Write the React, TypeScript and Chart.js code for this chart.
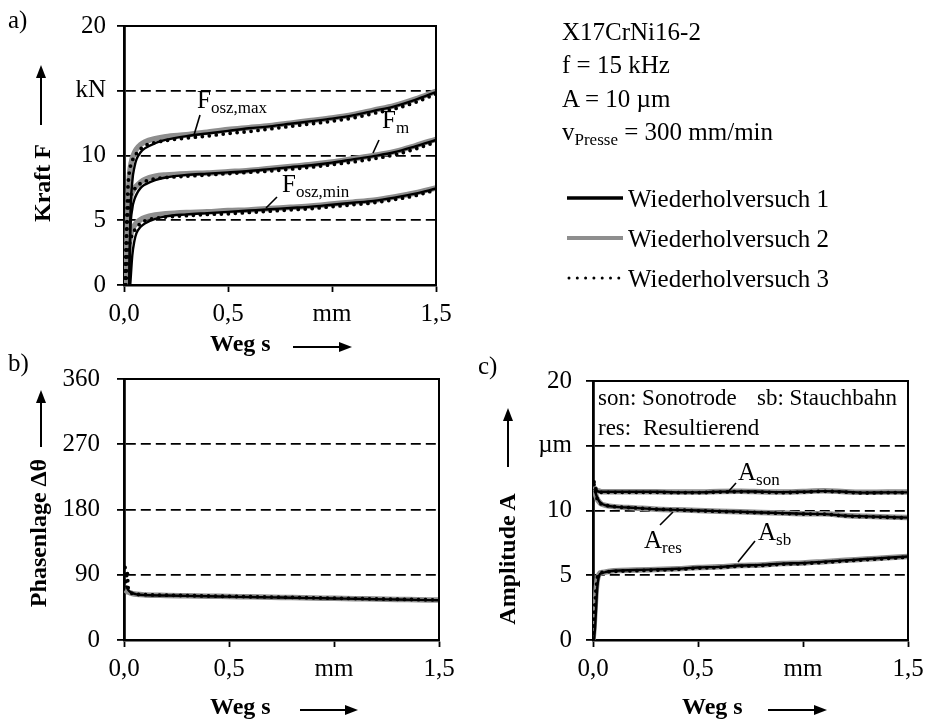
import React, { useEffect, useRef } from 'react';
import { Chart, registerables } from 'chart.js';

Chart.register(...registerables);

const FONT = "'Liberation Serif', 'Times New Roman', serif";
const GRAY = '#8e8e8e';

// ---------- shared x-axis ----------
const xTickValues = [0, 0.5, 1.0, 1.5];
const xTickLabels = ['0,0', '0,5', 'mm', '1,5'];

// ---------- chart a: Kraft F ----------
const yTickValuesA = [0, 5, 10, 15, 20];
const yTickLabelsA = ['0', '5', '10', 'kN', '20'];
const sA = [0, 0.005, 0.01, 0.015, 0.02, 0.025, 0.03, 0.04, 0.05, 0.06, 0.08, 0.1, 0.15, 0.2, 0.3, 0.4, 0.5, 0.6, 0.7, 0.8, 0.9, 1.0, 1.1, 1.2, 1.3, 1.4, 1.5];
const fMax1 = [null, null, null, null, null, 0, 5.0, 8.0, 9.1, 9.7, 10.25, 10.55, 10.95, 11.2, 11.5, 11.7, 11.9, 12.1, 12.25, 12.45, 12.65, 12.85, 13.1, 13.45, 13.8, 14.3, 14.9];
const fMax2 = [null, null, 0, 3.5, 6.5, 8.2, 9.0, 9.8, 10.2, 10.5, 10.85, 11.05, 11.3, 11.45, 11.6, 11.8, 12.0, 12.15, 12.3, 12.5, 12.7, 12.9, 13.15, 13.5, 13.85, 14.35, 14.95];
const fMax3 = [null, 0, 3.0, 6.0, 7.8, 8.6, 9.1, 9.6, 9.9, 10.15, 10.5, 10.75, 11.0, 11.15, 11.35, 11.5, 11.7, 11.85, 12.05, 12.25, 12.45, 12.65, 12.9, 13.25, 13.6, 14.1, 14.75];
const fM1 = [null, null, null, null, null, 0, 4.0, 5.9, 6.6, 7.0, 7.5, 7.75, 8.1, 8.3, 8.5, 8.6, 8.7, 8.8, 8.95, 9.1, 9.25, 9.45, 9.7, 9.95, 10.25, 10.7, 11.2];
const fM2 = [null, null, 0, 2.8, 5.0, 6.2, 6.7, 7.2, 7.45, 7.65, 7.95, 8.15, 8.4, 8.5, 8.6, 8.65, 8.75, 8.85, 9.0, 9.15, 9.3, 9.5, 9.75, 10.0, 10.3, 10.75, 11.25];
const fM3 = [null, 0, 2.5, 4.6, 5.8, 6.4, 6.8, 7.2, 7.4, 7.6, 7.85, 8.0, 8.2, 8.3, 8.4, 8.5, 8.6, 8.7, 8.8, 8.95, 9.1, 9.3, 9.5, 9.75, 10.05, 10.5, 11.05];
const fMin1 = [null, null, null, null, null, null, 0, 2.3, 3.4, 4.0, 4.5, 4.75, 5.1, 5.3, 5.45, 5.55, 5.65, 5.75, 5.85, 5.95, 6.05, 6.2, 6.35, 6.5, 6.75, 7.05, 7.45];
const fMin2 = [null, null, null, 0, 1.8, 3.0, 3.7, 4.3, 4.6, 4.8, 5.05, 5.2, 5.4, 5.5, 5.6, 5.65, 5.75, 5.8, 5.9, 6.0, 6.1, 6.25, 6.4, 6.55, 6.8, 7.1, 7.5];
const fMin3 = [null, null, 0, 1.5, 2.5, 3.0, 3.4, 3.9, 4.2, 4.45, 4.75, 4.95, 5.15, 5.25, 5.35, 5.45, 5.5, 5.6, 5.7, 5.8, 5.9, 6.05, 6.2, 6.35, 6.6, 6.9, 7.35];

// ---------- chart b: Phasenlage ----------
const yTickValuesB = [0, 90, 180, 270, 360];
const yTickLabelsB = ['0', '90', '180', '270', '360'];
const sB = [0, 0.005, 0.01, 0.015, 0.02, 0.03, 0.04, 0.06, 0.1, 0.2, 0.3, 0.4, 0.5, 0.6, 0.7, 0.8, 0.9, 1.0, 1.1, 1.2, 1.3, 1.4, 1.5];
const phi1 = [null, null, 75, 72, 69, 66, 64.5, 63, 62, 61.3, 60.8, 60.3, 59.8, 59.3, 58.8, 58.3, 57.8, 57.3, 56.8, 56.3, 55.8, 55.3, 54.8];
const phi2 = [null, 69, 68, 67, 66, 65, 64, 63, 62.2, 61.5, 61, 60.5, 60, 59.5, 59, 58.5, 58, 57.5, 57, 56.5, 56, 55.5, 55];
const phi3 = [null, 100, 80, 95, 72, 66, 64, 63, 62.5, 61.8, 61.2, 60.7, 60.2, 59.7, 59.2, 58.7, 58.2, 57.7, 57.2, 56.7, 56.2, 55.7, 55.2];

// ---------- chart c: Amplitude ----------
const yTickValuesC = [0, 5, 10, 15, 20];
const yTickLabelsC = ['0', '5', '10', 'µm', '20'];
const sC = [0, 0.005, 0.01, 0.015, 0.02, 0.03, 0.04, 0.06, 0.1, 0.2, 0.3, 0.4, 0.5, 0.6, 0.7, 0.8, 0.9, 1.0, 1.1, 1.2, 1.3, 1.4, 1.5];
const aSon1 = [null, null, 11.8, 11.6, 11.5, 11.45, 11.45, 11.45, 11.45, 11.45, 11.45, 11.4, 11.4, 11.45, 11.48, 11.45, 11.42, 11.45, 11.5, 11.45, 11.38, 11.4, 11.4];
const aSon2 = [null, 11.6, 11.7, 11.55, 11.5, 11.5, 11.45, 11.45, 11.45, 11.45, 11.45, 11.42, 11.42, 11.47, 11.48, 11.45, 11.42, 11.47, 11.52, 11.45, 11.4, 11.42, 11.42];
const aSon3 = [null, 12.2, 11.9, 11.6, 11.5, 11.45, 11.4, 11.4, 11.4, 11.4, 11.4, 11.38, 11.38, 11.42, 11.45, 11.42, 11.38, 11.42, 11.48, 11.42, 11.35, 11.38, 11.38];
const aRes1 = [null, null, 11.5, 11.2, 11.0, 10.7, 10.55, 10.4, 10.3, 10.2, 10.1, 10.05, 10.0, 9.95, 9.9, 9.85, 9.8, 9.75, 9.72, 9.6, 9.55, 9.5, 9.45];
const aRes2 = [null, 11.6, 11.4, 11.1, 10.9, 10.65, 10.5, 10.4, 10.3, 10.2, 10.1, 10.05, 10.0, 9.95, 9.9, 9.85, 9.8, 9.75, 9.75, 9.62, 9.55, 9.5, 9.45];
const aRes3 = [null, 12.0, 11.6, 11.2, 10.9, 10.6, 10.5, 10.4, 10.3, 10.2, 10.1, 10.05, 9.98, 9.93, 9.88, 9.83, 9.78, 9.73, 9.72, 9.58, 9.52, 9.48, 9.42];
const aSb1 = [null, 0, 1.0, 2.5, 4.0, 5.0, 5.15, 5.25, 5.35, 5.4, 5.45, 5.5, 5.6, 5.65, 5.75, 5.8, 5.9, 5.95, 6.05, 6.15, 6.25, 6.35, 6.45];
const aSb2 = [0, 1.0, 2.5, 3.8, 4.6, 5.1, 5.2, 5.25, 5.35, 5.4, 5.45, 5.5, 5.6, 5.65, 5.75, 5.8, 5.9, 5.95, 6.05, 6.15, 6.25, 6.35, 6.45];
const aSb3 = [0, 1.5, 3.0, 4.0, 4.8, 5.1, 5.2, 5.25, 5.3, 5.35, 5.4, 5.45, 5.55, 5.6, 5.7, 5.75, 5.85, 5.9, 6.0, 6.1, 6.2, 6.3, 6.4];

const runStyles: any[] = [
  { borderColor: '#000', borderWidth: 2.4, order: 1 },
  { borderColor: GRAY, borderWidth: 5.5, order: 2 },
  { borderColor: '#000', borderWidth: 3.8, borderDash: [0, 7], borderCapStyle: 'round', order: 0 },
];

function ds(xs: number[], ys: (number | null)[], run: number) {
  return {
    data: xs.map((x, i) => ({ x, y: ys[i] })),
    pointRadius: 0,
    cubicInterpolationMode: 'monotone',
    fill: false,
    ...runStyles[run],
  };
}

const framePlugin = {
  id: 'frame',
  afterDraw(chart: any) {
    const { ctx, chartArea: a } = chart;
    ctx.save();
    ctx.strokeStyle = '#000';
    ctx.lineWidth = 2;
    ctx.beginPath();
    ctx.moveTo(a.left, a.top);
    ctx.lineTo(a.right, a.top);
    ctx.lineTo(a.right, a.bottom);
    ctx.stroke();
    ctx.restore();
  },
};

type Cfg = {
  left: number; top: number; w: number; h: number;
  padTop: number; padRight: number; yW: number; xH: number; yPad: number;
  yMax: number; yVals: number[]; yLabels: string[];
  datasets: any[];
};

function buildConfig(cfg: Cfg): any {
  const tickFont = { family: FONT, size: 25 };
  return {
    type: 'line',
    data: { datasets: cfg.datasets },
    plugins: [framePlugin],
    options: {
      animation: false,
      responsive: false,
      maintainAspectRatio: false,
      devicePixelRatio: 1,
      events: [],
      layout: { padding: { top: cfg.padTop, right: cfg.padRight, left: 0, bottom: 0 } },
      plugins: { legend: { display: false }, tooltip: { enabled: false } },
      scales: {
        x: {
          type: 'linear', min: 0, max: 1.5,
          afterBuildTicks: (s: any) => { s.ticks = xTickValues.map((v) => ({ value: v })); },
          afterFit: (s: any) => { s.height = cfg.xH; },
          ticks: {
            callback: (_v: any, i: number) => xTickLabels[i],
            font: tickFont, color: '#000', padding: 7, maxRotation: 0, minRotation: 0, autoSkip: false,
          },
          grid: { drawOnChartArea: false, drawTicks: true, tickLength: 7, tickColor: '#000', tickWidth: 1.8, color: '#000' },
          border: { color: '#000', width: 2.6 },
        },
        y: {
          type: 'linear', min: 0, max: cfg.yMax,
          afterBuildTicks: (s: any) => { s.ticks = cfg.yVals.map((v) => ({ value: v })); },
          afterFit: (s: any) => { s.width = cfg.yW; },
          ticks: {
            callback: (_v: any, i: number) => cfg.yLabels[i],
            font: tickFont, color: '#000', padding: cfg.yPad, autoSkip: false,
          },
          grid: {
            drawOnChartArea: true, drawTicks: true, tickLength: 7,
            color: '#000', lineWidth: 1.8, tickColor: '#000', tickWidth: 1.8, tickBorderDash: [],
          },
          border: { color: '#000', width: 2.8, dash: [10, 5] },
        },
      },
    },
  };
}

function ChartCanvas({ cfg }: { cfg: Cfg }) {
  const ref = useRef<HTMLCanvasElement>(null);
  useEffect(() => {
    const chart = new Chart(ref.current as HTMLCanvasElement, buildConfig(cfg));
    return () => chart.destroy();
  }, []);
  return (
    <canvas
      ref={ref}
      width={cfg.w}
      height={cfg.h}
      style={{ position: 'absolute', left: cfg.left, top: cfg.top, width: cfg.w, height: cfg.h }}
    />
  );
}

const cfgA: Cfg = {
  left: 0, top: 0, w: 470, h: 360, padTop: 20, padRight: 34, yW: 124, xH: 75, yPad: 11,
  yMax: 20, yVals: yTickValuesA, yLabels: yTickLabelsA,
  datasets: [
    ds(sA, fMax2, 1), ds(sA, fM2, 1), ds(sA, fMin2, 1),
    ds(sA, fMax1, 0), ds(sA, fM1, 0), ds(sA, fMin1, 0),
    ds(sA, fMax3, 2), ds(sA, fM3, 2), ds(sA, fMin3, 2),
  ],
};

const cfgB: Cfg = {
  left: 0, top: 340, w: 470, h: 382, padTop: 39, padRight: 31, yW: 124, xH: 82, yPad: 17,
  yMax: 360, yVals: yTickValuesB, yLabels: yTickLabelsB,
  datasets: [ds(sB, phi2, 1), ds(sB, phi1, 0), ds(sB, phi3, 2)],
};

const cfgC: Cfg = {
  left: 463, top: 340, w: 472, h: 382, padTop: 41, padRight: 27, yW: 130, xH: 82, yPad: 14,
  yMax: 20, yVals: yTickValuesC, yLabels: yTickLabelsC,
  datasets: [
    ds(sC, aSon2, 1), ds(sC, aRes2, 1), ds(sC, aSb2, 1),
    ds(sC, aSon1, 0), ds(sC, aRes1, 0), ds(sC, aSb1, 0),
    ds(sC, aSon3, 2), ds(sC, aRes3, 2), ds(sC, aSb3, 2),
  ],
};

function UpArrow({ x, y1, y2 }: { x: number; y1: number; y2: number }) {
  return (
    <g>
      <line x1={x} y1={y1} x2={x} y2={y2 + 10} stroke="#000" strokeWidth={2} />
      <polygon points={`${x},${y2} ${x - 5},${y2 + 13} ${x + 5},${y2 + 13}`} fill="#000" />
    </g>
  );
}

function RightArrow({ x1, x2, y }: { x1: number; x2: number; y: number }) {
  return (
    <g>
      <line x1={x1} y1={y} x2={x2 - 10} y2={y} stroke="#000" strokeWidth={2} />
      <polygon points={`${x2},${y} ${x2 - 13},${y - 5} ${x2 - 13},${y + 5}`} fill="#000" />
    </g>
  );
}

function Sub({ x, y, main, sub }: { x: number; y: number; main: string; sub: string }) {
  return (
    <text x={x} y={y} fontSize={25}>
      {main}
      <tspan dy={5} fontSize={17}>{sub}</tspan>
    </text>
  );
}

function Overlay() {
  return (
    <svg
      width={926}
      height={722}
      style={{ position: 'absolute', left: 0, top: 0, pointerEvents: 'none', fontFamily: FONT }}
    >
      <g fill="#000">
        <text x={8} y={28} fontSize={25}>a)</text>
        <text x={8} y={371} fontSize={25}>b)</text>
        <text x={478} y={374} fontSize={25}>c)</text>

        {/* axis titles */}
        <text transform="translate(50,183) rotate(-90)" textAnchor="middle" fontSize={24} fontWeight="bold">Kraft F</text>
        <UpArrow x={41} y1={125} y2={65} />
        <text x={210} y={351} fontSize={24} fontWeight="bold">Weg s</text>
        <RightArrow x1={293} x2={352} y={347} />

        <text transform="translate(46,533) rotate(-90)" textAnchor="middle" fontSize={24} fontWeight="bold">Phasenlage Δθ</text>
        <UpArrow x={41} y1={447} y2={390} />
        <text x={210} y={714} fontSize={24} fontWeight="bold">Weg s</text>
        <RightArrow x1={300} x2={358} y={710} />

        <text transform="translate(515,559) rotate(-90)" textAnchor="middle" fontSize={24} fontWeight="bold">Amplitude A</text>
        <UpArrow x={508} y1={467} y2={408} />
        <text x={682} y={714} fontSize={24} fontWeight="bold">Weg s</text>
        <RightArrow x1={768} x2={827} y={710} />

        {/* curve labels chart a */}
        <Sub x={197} y={108} main="F" sub="osz,max" />
        <line x1={200} y1={115} x2={194} y2={135} stroke="#000" strokeWidth={1.6} />
        <Sub x={382} y={128} main="F" sub="m" />
        <line x1={379} y1={140} x2={373} y2={153} stroke="#000" strokeWidth={1.6} />
        <Sub x={282} y={192} main="F" sub="osz,min" />
        <line x1={277} y1={197} x2={266} y2={208} stroke="#000" strokeWidth={1.6} />

        {/* chart c texts */}
        <text x={598} y={405} fontSize={23}>son: Sonotrode</text>
        <text x={757} y={405} fontSize={23}>sb: Stauchbahn</text>
        <text x={598} y={435} fontSize={23}>res:</text>
        <text x={643} y={435} fontSize={23}>Resultierend</text>
        <Sub x={738} y={480} main="A" sub="son" />
        <line x1={736} y1={483} x2={728} y2={492} stroke="#000" strokeWidth={1.6} />
        <Sub x={644} y={548} main="A" sub="res" />
        <line x1={673} y1={512} x2={660} y2={525} stroke="#000" strokeWidth={1.6} />
        <Sub x={758} y={540} main="A" sub="sb" />
        <line x1={755} y1={541} x2={738} y2={562} stroke="#000" strokeWidth={1.6} />

        {/* info block */}
        <text x={562} y={40} fontSize={25}>X17CrNi16-2</text>
        <text x={562} y={73} fontSize={25}>f = 15 kHz</text>
        <text x={562} y={107} fontSize={25}>A = 10 µm</text>
        <text x={562} y={140} fontSize={25}>
          v<tspan dy={5} fontSize={17}>Presse</tspan>
          <tspan dy={-5}>{'\u00a0= 300 mm/min'}</tspan>
        </text>

        {/* legend */}
        <line x1={567} y1={198} x2={623} y2={198} stroke="#000" strokeWidth={3.5} />
        <text x={628} y={207} fontSize={25}>Wiederholversuch 1</text>
        <line x1={567} y1={238} x2={623} y2={238} stroke={GRAY} strokeWidth={4} />
        <text x={628} y={247} fontSize={25}>Wiederholversuch 2</text>
        <line x1={569} y1={278} x2={619} y2={278} stroke="#000" strokeWidth={3} strokeDasharray="0 8.3" strokeLinecap="round" />
        <text x={628} y={287} fontSize={25}>Wiederholversuch 3</text>
      </g>
    </svg>
  );
}

export default function App() {
  return (
    <div style={{ position: 'absolute', left: 0, top: 0, width: 926, height: 722, background: '#fff', overflow: 'hidden' }}>
      <ChartCanvas cfg={cfgA} />
      <ChartCanvas cfg={cfgB} />
      <ChartCanvas cfg={cfgC} />
      <Overlay />
    </div>
  );
}
